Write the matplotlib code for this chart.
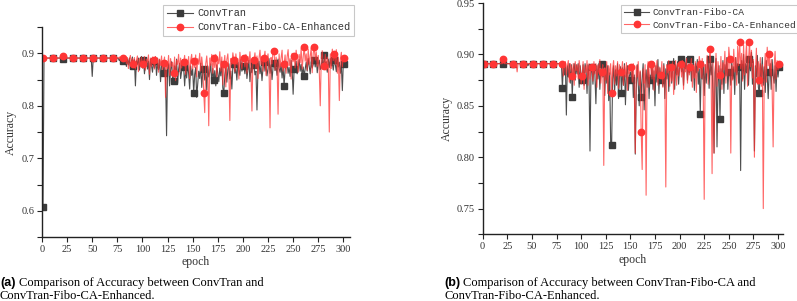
import numpy as np
import matplotlib.pyplot as plt
from matplotlib.ticker import MultipleLocator

# accuracy per epoch, in thousandths
epochs = np.arange(1, 302)

# panel (a): ConvTran
conv_a = [
    608, 890, 891, 891, 891, 891, 891, 891, 891, 891,
    891, 891, 891, 891, 891, 891, 891, 891, 891, 891,
    890, 891, 891, 891, 891, 891, 891, 891, 891, 891,
    891, 891, 891, 891, 891, 891, 891, 891, 891, 891,
    891, 891, 891, 891, 891, 891, 891, 891, 891, 856,
    891, 891, 891, 891, 891, 891, 891, 891, 891, 891,
    891, 891, 891, 891, 891, 891, 891, 891, 891, 891,
    891, 891, 891, 891, 891, 890, 886, 891, 884, 889,
    886, 880, 893, 875, 889, 878, 891, 870, 884, 893,
    875, 888, 838, 886, 879, 891, 868, 885, 894, 872,
    888, 861, 880, 892, 870, 885, 850, 889, 876, 864,
    886, 872, 893, 858, 881, 869, 888, 846, 877, 885,
    862, 879, 855, 743, 871, 880, 838, 868, 884, 852,
    847, 876, 859, 889, 843, 870, 881, 852, 866, 888,
    873, 838, 869, 853, 880, 861, 832, 876, 858, 870,
    825, 860, 873, 816, 840, 866, 852, 881, 835, 862,
    871, 849, 868, 830, 876, 855, 864, 880, 842, 871,
    850, 867, 838, 878, 861, 846, 872, 857, 885, 834,
    825, 859, 874, 845, 869, 880, 851, 866, 832, 877,
    880, 862, 871, 849, 883, 868, 858, 888, 866, 874,
    875, 861, 883, 852, 870, 887, 846, 872, 863, 880,
    877, 859, 866, 792, 870, 885, 861, 876, 848, 872,
    884, 866, 879, 857, 871, 890, 862, 878, 850, 873,
    882, 867, 876, 858, 889, 871, 864, 880, 853, 875,
    838, 869, 878, 884, 862, 873, 856, 887, 869, 822,
    870, 876, 885, 861, 872, 888, 866, 879, 857, 874,
    857, 870, 883, 866, 890, 875, 861, 884, 872, 879,
    888, 874, 893, 863, 880, 887, 869, 876, 892, 870,
    896, 878, 884, 864, 889, 873, 890, 876, 881, 868,
    888, 879, 865, 891, 874, 883, 862, 878, 829, 885,
    879,
]

# panel (a): ConvTran-Fibo-CA-Enhanced
enh_a = [
    891, 891, 891, 891, 891, 891, 891, 891, 891, 891,
    891, 891, 891, 891, 891, 891, 891, 891, 891, 891,
    894, 891, 891, 891, 891, 891, 891, 891, 891, 891,
    891, 891, 887, 891, 891, 891, 891, 891, 891, 891,
    891, 891, 891, 891, 891, 891, 891, 891, 891, 891,
    891, 891, 891, 891, 891, 891, 891, 891, 891, 891,
    891, 891, 891, 891, 891, 891, 891, 891, 891, 891,
    891, 891, 891, 891, 891, 891, 893, 889, 891, 887,
    891, 885, 894, 880, 892, 871, 889, 896, 878, 890,
    879, 892, 870, 887, 895, 865, 890, 876, 893, 882,
    879, 894, 868, 889, 883, 897, 860, 891, 875, 893,
    887, 870, 894, 882, 891, 864, 889, 877, 895, 869,
    882, 893, 816, 885, 871, 896, 858, 890, 875, 883,
    862, 893, 848, 887, 879, 898, 865, 891, 872, 884,
    883, 896, 860, 889, 878, 894, 852, 887, 898, 870,
    886, 873, 897, 855, 890, 879, 900, 866, 893, 874,
    825, 787, 880, 895, 868, 762, 891, 877, 898, 862,
    891, 873, 898, 855, 889, 880, 903, 866, 893, 840,
    879, 896, 836, 888, 899, 868, 772, 890, 879, 901,
    887, 865, 899, 878, 890, 851, 902, 883, 870, 895,
    891, 874, 898, 862, 894, 881, 903, 869, 790, 892,
    887, 901, 871, 895, 852, 890, 906, 878, 893, 866,
    891, 904, 858, 887, 899, 873, 758, 892, 880, 905,
    904, 868, 893, 881, 784, 899, 873, 891, 906, 866,
    879, 897, 862, 893, 907, 876, 890, 851, 900, 884,
    895, 872, 906, 887, 864, 898, 882, 909, 870, 893,
    912, 885, 899, 868, 908, 879, 894, 910, 863, 900,
    912, 887, 903, 875, 896, 867, 800, 889, 905, 878,
    875, 898, 868, 893, 881, 750, 899, 871, 908, 886,
    898, 879, 907, 862, 893, 810, 889, 902, 874, 895,
    891,
]

# panel (b): ConvTran-Fibo-CA
fibo_b = [
    891, 891, 891, 891, 891, 891, 891, 891, 891, 891,
    891, 891, 891, 891, 891, 891, 891, 891, 891, 891,
    891, 891, 891, 891, 891, 891, 891, 891, 891, 891,
    891, 891, 891, 891, 891, 891, 891, 891, 891, 891,
    891, 891, 891, 891, 891, 889, 891, 891, 891, 891,
    891, 891, 891, 891, 891, 891, 891, 891, 891, 891,
    891, 891, 891, 891, 891, 891, 891, 891, 891, 891,
    891, 891, 891, 891, 891, 891, 891, 891, 891, 891,
    867, 891, 880, 890, 841, 889, 878, 891, 872, 890,
    859, 886, 891, 875, 890, 881, 891, 868, 889, 880,
    875, 890, 870, 891, 885, 862, 890, 878, 806, 882,
    888, 871, 890, 880, 852, 889, 876, 891, 866, 885,
    891, 878, 887, 860, 890, 872, 889, 855, 882, 813,
    812, 876, 889, 863, 885, 870, 891, 857, 879, 888,
    862, 887, 870, 891, 851, 880, 889, 865, 879, 883,
    875, 889, 858, 880, 803, 867, 890, 872, 850, 883,
    859, 877, 891, 846, 872, 885, 868, 889, 857, 880,
    875, 891, 866, 884, 850, 889, 873, 895, 862, 887,
    875, 882, 869, 891, 857, 886, 876, 893, 864, 889,
    891, 872, 887, 896, 866, 890, 880, 893, 871, 888,
    896, 883, 891, 870, 893, 886, 897, 875, 890, 882,
    896, 874, 888, 893, 865, 891, 882, 895, 871, 886,
    842, 889, 876, 893, 860, 890, 872, 885, 898, 867,
    896, 880, 891, 857, 804, 882, 896, 810, 873, 889,
    837, 886, 871, 894, 862, 890, 879, 897, 866, 884,
    883, 870, 893, 876, 888, 861, 897, 880, 891, 872,
    888, 787, 894, 876, 900, 866, 891, 882, 897, 870,
    896, 884, 902, 871, 893, 806, 889, 878, 899, 868,
    862, 891, 876, 897, 870, 888, 863, 894, 880, 857,
    883, 891, 866, 895, 880, 872, 889, 864, 891, 878,
    888,
]

# panel (b): ConvTran-Fibo-CA-Enhanced
enh_b = [
    891, 891, 891, 891, 891, 891, 891, 891, 891, 891,
    891, 891, 891, 891, 891, 891, 891, 891, 891, 891,
    896, 891, 891, 891, 891, 891, 891, 891, 891, 891,
    891, 891, 891, 891, 883, 891, 891, 891, 891, 891,
    891, 891, 891, 891, 891, 891, 891, 891, 891, 891,
    891, 891, 891, 891, 891, 891, 891, 891, 891, 891,
    891, 891, 891, 891, 891, 891, 891, 891, 891, 891,
    891, 891, 891, 891, 891, 891, 891, 891, 891, 891,
    891, 879, 890, 893, 880, 889, 894, 873, 891, 888,
    879, 891, 870, 893, 884, 890, 876, 894, 887, 871,
    879, 893, 866, 889, 882, 894, 870, 891, 876, 888,
    888, 874, 893, 881, 891, 868, 890, 883, 895, 872,
    883, 890, 792, 887, 875, 893, 862, 889, 880, 891,
    862, 886, 894, 871, 889, 879, 893, 867, 890, 884,
    883, 893, 870, 889, 878, 892, 865, 888, 881, 890,
    888, 873, 891, 866, 804, 889, 878, 893, 870, 884,
    825, 788, 886, 872, 890, 763, 879, 893, 868, 887,
    891, 876, 893, 865, 889, 881, 894, 870, 888, 877,
    880, 893, 868, 889, 876, 771, 890, 882, 894, 869,
    888, 874, 893, 861, 887, 894, 870, 891, 879, 886,
    891, 878, 894, 866, 889, 883, 896, 872, 891, 880,
    888, 896, 868, 889, 877, 893, 863, 890, 884, 898,
    891, 877, 896, 869, 759, 890, 882, 899, 871, 893,
    905, 884, 784, 892, 804, 878, 901, 869, 893, 883,
    880, 898, 866, 892, 885, 903, 872, 895, 879, 907,
    896, 804, 889, 875, 905, 883, 897, 870, 908, 889,
    912, 886, 901, 874, 909, 880, 896, 911, 869, 894,
    912, 888, 904, 877, 895, 800, 882, 906, 871, 893,
    875, 897, 869, 890, 750, 884, 901, 873, 907, 889,
    900, 879, 895, 866, 810, 888, 903, 876, 894, 885,
    891,
]

labels_a = ['ConvTran', 'ConvTran-Fibo-CA-Enhanced']
labels_b = ['ConvTran-Fibo-CA', 'ConvTran-Fibo-CA-Enhanced']

BLACK = '#3b3b3b'
RED = '#ff3535'
SERIF = 'Liberation Serif'
MONO = 'Liberation Mono'

fig = plt.figure(figsize=(7.97, 3.01), dpi=100)
ax_a = fig.add_axes([0.0527, 0.2126, 0.3863, 0.6974])
ax_b = fig.add_axes([0.6056, 0.2216, 0.3768, 0.7684])


def draw(ax, black_vals, red_vals, labels, xmax, ylim, ymajor, yfmt):
    ax.plot(epochs, np.array(black_vals) / 1000, color=(0.23, 0.23, 0.23, 0.9), lw=0.8,
            marker='s', ms=3.8, mfc=BLACK, mec=BLACK, markevery=10, label=labels[0])
    ax.plot(epochs, np.array(red_vals) / 1000, color=(1.0, 0.2, 0.2, 0.75), lw=0.8,
            marker='o', ms=4.6, mfc=RED, mec=RED, markevery=10, label=labels[1])
    ax.set_xlim(0, xmax)
    ax.set_ylim(*ylim)
    ax.xaxis.set_major_locator(MultipleLocator(25))
    ax.yaxis.set_major_locator(MultipleLocator(ymajor))
    ax.yaxis.set_minor_locator(MultipleLocator(ymajor / 2))
    ax.yaxis.set_major_formatter(plt.FormatStrFormatter(yfmt))
    for s in ['top', 'right']:
        ax.spines[s].set_visible(False)
    for s in ['left', 'bottom']:
        ax.spines[s].set_linewidth(1.0)
        ax.spines[s].set_color('#222222')
    ax.tick_params(which='major', length=3.5, width=0.8, labelsize=7.5,
                   color='#222222', labelcolor='#333333', pad=2)
    ax.tick_params(which='minor', length=3.5, width=0.8, color='#222222')
    for lab in ax.get_xticklabels() + ax.get_yticklabels():
        lab.set_family(SERIF)
    ax.set_xlabel('epoch', fontsize=8.5, family=SERIF, color='#333333', labelpad=2)
    ax.set_ylabel('Accuracy', fontsize=8.5, family=SERIF, color='#333333', labelpad=3)


draw(ax_a, conv_a, enh_a, labels_a, 306.5, (0.55, 0.95), 0.1, '%.1f')
draw(ax_b, fibo_b, enh_b, labels_b, 305, (0.725, 0.95), 0.05, '%.2f')

for ax, anchor, size in [(ax_a, (163 / 797, 0.985), 7.4), (ax_b, (621 / 797, 0.985), 6.8)]:
    leg = ax.legend(loc='upper left', bbox_to_anchor=anchor, bbox_transform=fig.transFigure,
                    prop={'family': MONO, 'size': size}, frameon=True, fancybox=False,
                    edgecolor='#bbbbbb', borderpad=0.35, labelspacing=0.4,
                    handlelength=2.6, handletextpad=0.4, borderaxespad=0)
    leg.get_frame().set_linewidth(0.8)
    for t in leg.get_texts():
        t.set_color('#333333')

# captions under the panels
fig.text(0.0, 1 - 286 / 301, '(a)', family='Liberation Sans', weight='bold', fontsize=9, va='baseline')
fig.text(19 / 797, 1 - 286 / 301, 'Comparison of Accuracy between ConvTran and',
         family=SERIF, fontsize=9, va='baseline')
fig.text(0.0, 1 - 299 / 301, 'ConvTran-Fibo-CA-Enhanced.', family=SERIF, fontsize=9, va='baseline')

fig.text(444 / 797, 1 - 286 / 301, '(b)', family='Liberation Sans', weight='bold', fontsize=9, va='baseline')
fig.text(463 / 797, 1 - 286 / 301, 'Comparison of Accuracy between ConvTran-Fibo-CA and',
         family=SERIF, fontsize=9, va='baseline')
fig.text(444 / 797, 1 - 299 / 301, 'ConvTran-Fibo-CA-Enhanced.', family=SERIF, fontsize=9, va='baseline')

fig.savefig('out.png', dpi=100)
